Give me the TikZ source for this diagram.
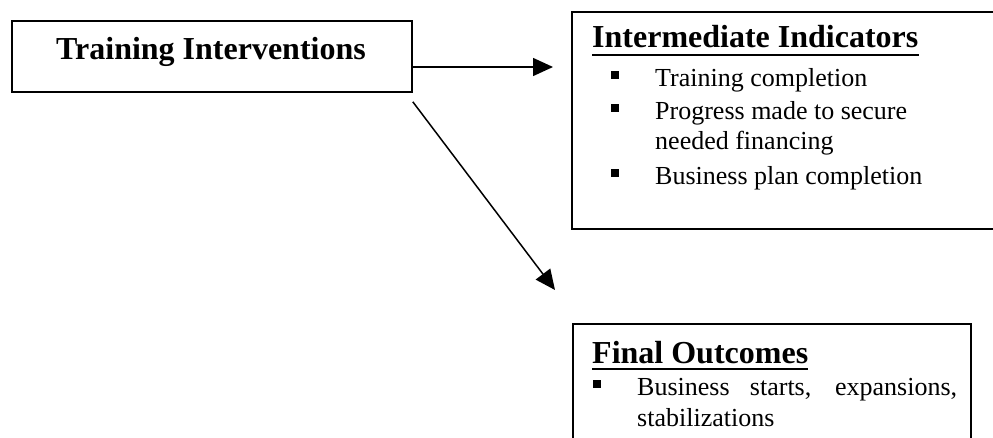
\documentclass[tikz,border=0pt]{standalone}
\usepackage{fontspec}
\setmainfont{Liberation Serif}
\usetikzlibrary{arrows.meta}
\newcommand{\headfont}{\fontsize{32}{36}\selectfont\bfseries}
\newcommand{\itemfont}{\fontsize{26}{30}\selectfont}

\begin{document}
\begin{tikzpicture}[x=1pt,y=-1pt,
  box/.style={draw,line width=1.8pt,inner sep=0pt},
  head/.style={font=\headfont,inner sep=0pt},
  item/.style={font=\itemfont,inner sep=0pt,anchor=base west},
  bul/.style={fill,rectangle,minimum size=8pt,inner sep=0pt},
  uline/.style={line width=2.8pt},
  arr/.style={line width=1.5pt,-{Triangle[length=20pt,width=18pt]}}]
\useasboundingbox (0,0) rectangle (993,438);
\clip (0,0) rectangle (993,438);

\node[box,anchor=north west,minimum width=400pt,minimum height=71pt] (train) at (11,20) {}; %box 1
\node[head,anchor=base] (trainhd) at (211,60) {Training Interventions};

\node[box,anchor=north west,minimum width=440pt,minimum height=217pt] (inter) at (571,11) {}; %box 2
\node[head,anchor=base west] (interhd) at (592,48) {Intermediate Indicators};
\draw[uline] ([yshift=-7pt]interhd.base west) -- ([yshift=-7pt]interhd.base east);
\node[bul] (b1) at (614.5,75) {};
\node[item] (i1) at (655,87) {Training completion};
\node[bul] (b2) at (614.5,108) {};
\node[item] (i2) at (655,120) {Progress made to secure};
\node[item] (i2b) at (655,150) {needed financing};
\node[bul] (b3) at (614.5,173) {};
\node[item] (i3) at (655,185) {Business plan completion};

\node[box,anchor=north west,minimum width=398pt,minimum height=150pt] (final) at (572,323) {}; %box 3
\node[head,anchor=base west] (finalhd) at (592,363) {Final Outcomes};
\draw[uline] ([yshift=-6pt]finalhd.base west) -- ([yshift=-6pt]finalhd.base east);
\node[bul] (b4) at (597,384) {};
\node[item] (i4) at (637,395) {\makebox[320pt][s]{Business starts, expansions,}};
\node[item] (i4b) at (637,426) {stabilizations};

\coordinate (htip) at (553,67);
\coordinate (dtip) at (555,290);
\draw[arr] (train.east |- htip) -- (htip);
\draw[arr] ([yshift=-9pt]train.south east) -- (dtip);
\end{tikzpicture}
\end{document}
